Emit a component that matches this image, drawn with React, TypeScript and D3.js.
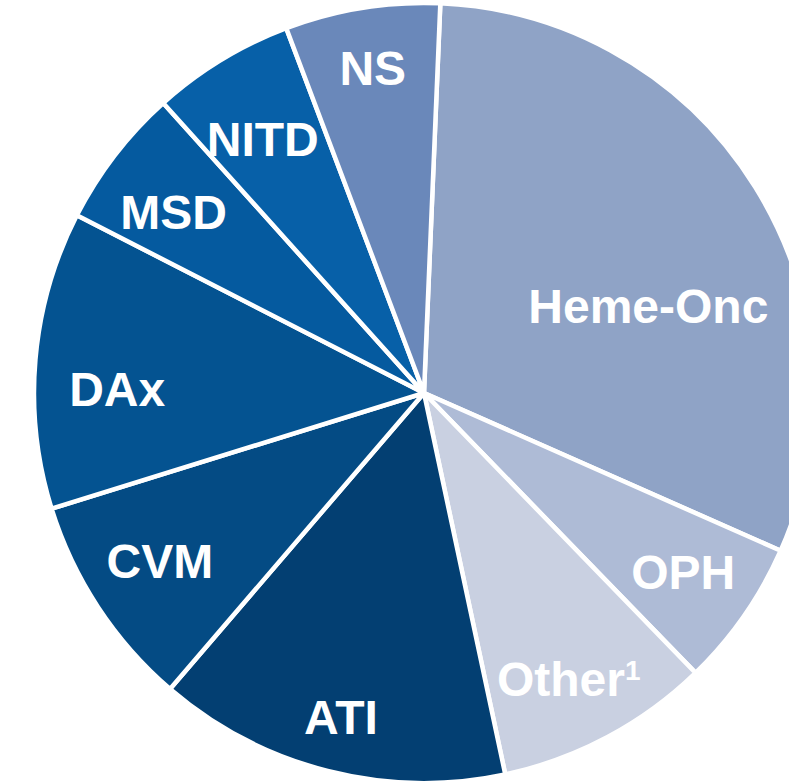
import React from 'react';
import * as d3 from 'd3';

// slice order clockwise, starting at the NS / Heme-Onc boundary
const categories = ['Heme-Onc', 'OPH', 'Other', 'ATI', 'CVM', 'DAx', 'MSD', 'NITD', 'NS'];
const shares = [30.9, 6.1, 8.9, 14.6, 8.9, 12.3, 5.8, 5.9, 6.4];

const colors: Record<string, string> = {
  'Heme-Onc': '#8fa3c6',
  OPH: '#aebbd6',
  Other: '#c9d0e1',
  ATI: '#033f72',
  CVM: '#044b84',
  DAx: '#045391',
  MSD: '#055a9f',
  NITD: '#0760a8',
  NS: '#6a88ba',
};

// small hand nudges so labels sit where the original has them
const labelNudge: Record<string, [number, number]> = {
  'Heme-Onc': [-44, 80],
  OPH: [0, -2],
  Other: [-4, 7],
  ATI: [-5, 18],
  CVM: [0, -6],
  DAx: [8, 23],
  MSD: [0, 11],
  NITD: [3, 16],
  NS: [-1, -13],
};

const W = 789;
const H = 781;
const cx = 424;
const cy = 393;
const R = 390;

export default function App() {
  const data = categories.map((name, i) => ({ name, value: shares[i] }));
  const start = (2.4 * Math.PI) / 180;

  const pie = d3
    .pie<{ name: string; value: number }>()
    .sort(null)
    .value(d => d.value)
    .startAngle(start)
    .endAngle(start + 2 * Math.PI);

  const arcs = pie(data);
  const arc = d3.arc<d3.PieArcDatum<{ name: string; value: number }>>().innerRadius(0).outerRadius(R);
  const labelArc = d3
    .arc<d3.PieArcDatum<{ name: string; value: number }>>()
    .innerRadius(316)
    .outerRadius(316);

  return (
    <svg
      width={W}
      height={H}
      style={{ position: 'absolute', left: 0, top: 0, background: '#fff' }}
    >
      <g transform={`translate(${cx},${cy})`}>
        {arcs.map(a => (
          <path
            key={a.data.name}
            d={arc(a) || ''}
            fill={colors[a.data.name]}
            stroke="#fff"
            strokeWidth={4.5}
            strokeLinejoin="round"
          />
        ))}
        {arcs.map(a => {
          const [x, y] = labelArc.centroid(a);
          const [dx, dy] = labelNudge[a.data.name];
          return (
            <text
              key={'l' + a.data.name}
              x={x + dx}
              y={y + dy}
              dy="0.36em"
              textAnchor="middle"
              fill="#fff"
              fontFamily="Liberation Sans, Arial, sans-serif"
              fontWeight="bold"
              fontSize={48}
            >
              {a.data.name}
              {a.data.name === 'Other' && (
                <tspan fontSize={28} dy="-16">
                  1
                </tspan>
              )}
            </text>
          );
        })}
      </g>
    </svg>
  );
}
